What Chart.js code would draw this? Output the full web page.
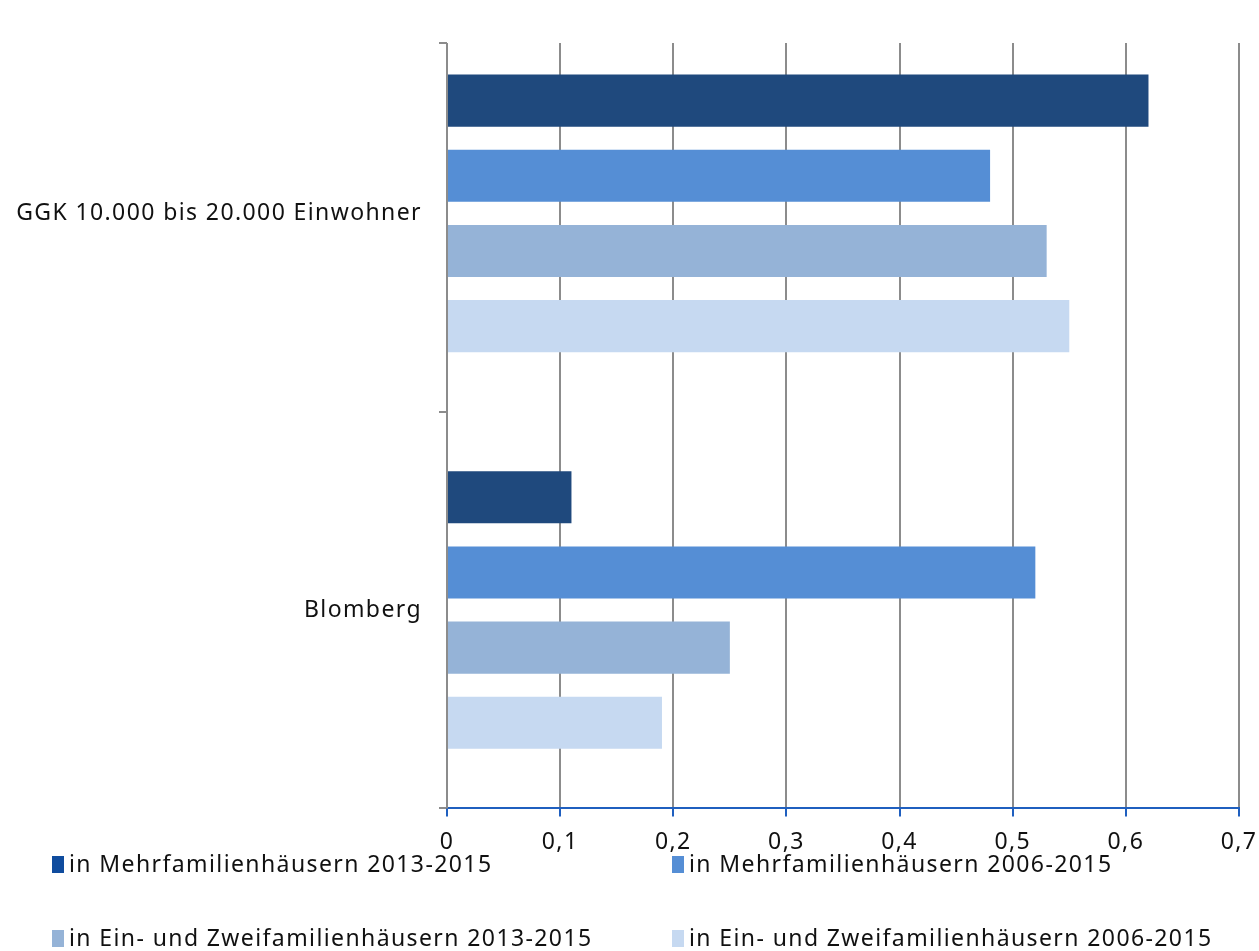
<!DOCTYPE html>
<html>
<head>
<meta charset="utf-8">
<script src="https://cdn.jsdelivr.net/npm/chart.js@4.4.1/dist/chart.umd.min.js"></script>
<style>
  body { margin: 0; background: #fff; }
  #wrap { position: relative; width: 1259px; height: 951px; }
  .leg { position: absolute; font-family: "Noto Sans", sans-serif; font-size: 23px; letter-spacing: 1.4px; color: #111; white-space: nowrap; }
  .leg span { display: inline-block; width: 12px; height: 17px; margin-right: 5px; vertical-align: -1px; }
</style>
</head>
<body>
<div id="wrap">
  <canvas id="grafico" width="1259" height="951"></canvas>
</div>
<script>
let kategorien = ['GGK 10.000 bis 20.000 Einwohner', 'Blomberg'];
let serienNamen = [
    'in Mehrfamilienhäusern 2013-2015',
    'in Mehrfamilienhäusern 2006-2015',
    'in Ein- und Zweifamilienhäusern 2013-2015',
    'in Ein- und Zweifamilienhäusern 2006-2015'
];
let mfh2013 = [0.62, 0.11];
let mfh2006 = [0.48, 0.52];
let ezfh2013 = [0.53, 0.25];
let ezfh2006 = [0.55, 0.19];
let xTicks = [0, 0.1, 0.2, 0.3, 0.4, 0.5, 0.6, 0.7];

let farben = ['#1f497d', '#558ed5', '#95b3d7', '#c6d9f1'];
let legendFarben = ['#0f4c9e', '#558ed5', '#95b3d7', '#c6d9f1'];

// oberen Rand abdecken und y-Achse ab 43px zeichnen
let achsePlugin = {
    id: 'achse',
    beforeDraw(chart) {
        chart.ctx.letterSpacing = '1.4px';
    },
    beforeDatasetsDraw(chart) {
        let ctx = chart.ctx, a = chart.chartArea;
        ctx.save();
        ctx.fillStyle = '#fff';
        ctx.fillRect(a.left - 10, 0, a.right - a.left + 14, 43);
        ctx.strokeStyle = '#8c8c8c';
        ctx.lineWidth = 2;
        ctx.beginPath();
        ctx.moveTo(a.left, 43);
        ctx.lineTo(a.left, a.bottom);
        ctx.moveTo(a.left - 8, 43);
        ctx.lineTo(a.left, 43);
        ctx.stroke();
        ctx.restore();
    }
};

let datenReihen = [mfh2013, mfh2006, ezfh2013, ezfh2006];
let grafico = new Chart(document.getElementById('grafico').getContext('2d'), {
    type: 'bar',
    data: {
        labels: kategorien,
        datasets: datenReihen.map((d, i) => ({
            label: serienNamen[i],
            data: d,
            backgroundColor: farben[i],
            categoryPercentage: 0.758,
            barPercentage: 0.693
        }))
    },
    options: {
        indexAxis: 'y',
        responsive: false,
        animation: false,
        devicePixelRatio: 1,
        layout: { padding: { top: 15, right: 20, bottom: 83, left: 0 } },
        plugins: { legend: { display: false }, tooltip: { enabled: false } },
        scales: {
            x: {
                min: 0, max: 0.7,
                afterBuildTicks(s) { s.ticks = xTicks.map(v => ({ value: v })); },
                afterFit(s) { s.paddingRight = 0; },
                grid: { color: '#8c8c8c', lineWidth: 2, tickColor: '#1f5fbf', tickLength: 8 },
                border: { display: true, color: '#1f5fbf', width: 2 },
                ticks: {
                    font: { family: 'Noto Sans', size: 23 }, color: '#111', padding: 12,
                    callback: v => String(v).replace('.', ',')
                }
            },
            y: {
                afterFit(s) { s.width = 447; s.paddingTop = 0; s.paddingBottom = 0; },
                grid: {
                    drawOnChartArea: false, tickLength: 8, lineWidth: 2,
                    color: c => c.index === 0 ? 'rgba(0,0,0,0)' : '#8c8c8c'
                },
                border: { display: false },
                ticks: { font: { family: 'Noto Sans', size: 23 }, color: '#111', padding: 17 }
            }
        }
    },
    plugins: [achsePlugin]
});

let wrap = document.getElementById('wrap');
let pos = [[52, 847], [672, 847], [52, 921], [672, 921]];
serienNamen.forEach((n, i) => {
    let d = document.createElement('div');
    d.className = 'leg';
    d.style.left = pos[i][0] + 'px';
    d.style.top = pos[i][1] + 'px';
    d.innerHTML = '<span style="background:' + legendFarben[i] + '"></span>' + n;
    wrap.appendChild(d);
});
</script>
</body>
</html>
